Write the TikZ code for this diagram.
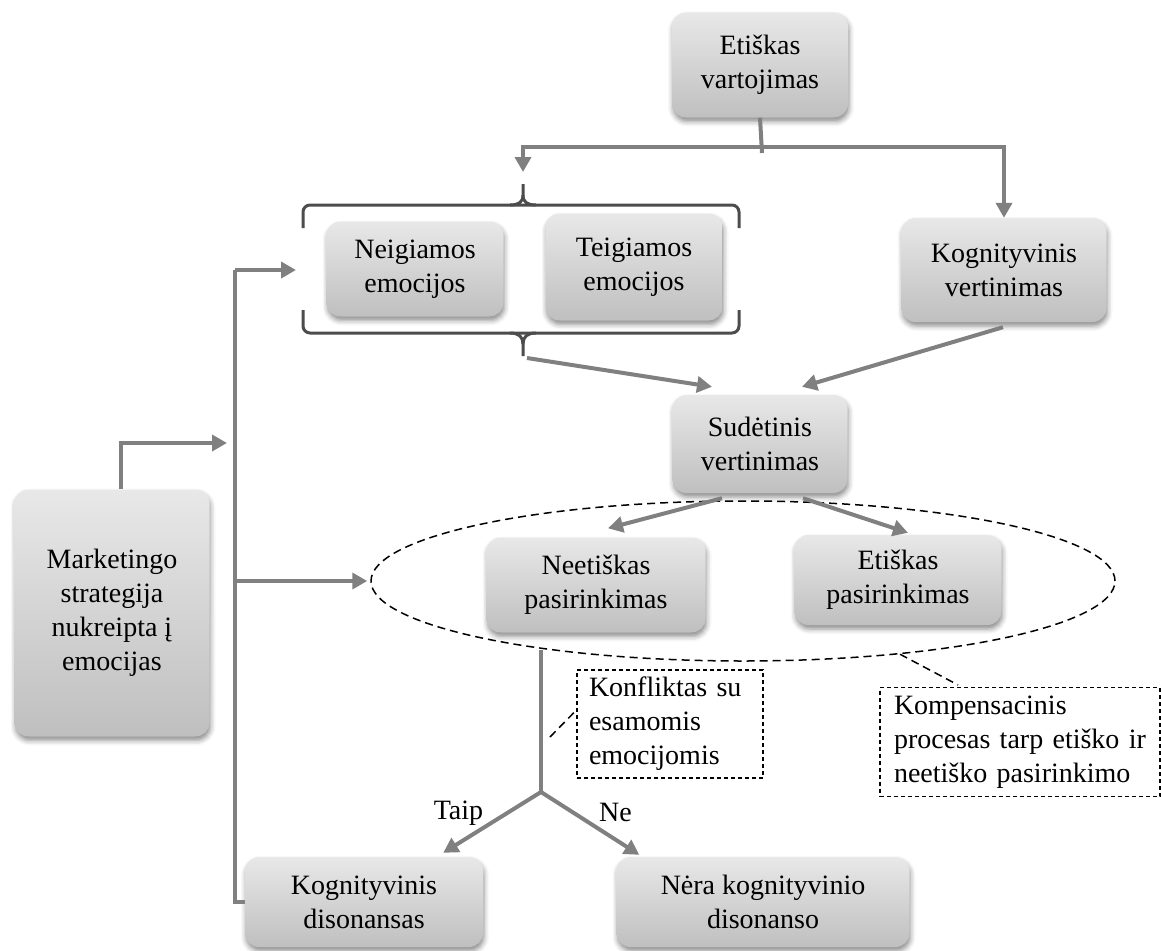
\documentclass[tikz,border=0pt]{standalone}
\usepackage{fontspec}
\setmainfont{Liberation Serif}
\usepackage{tikz}
\usetikzlibrary{
  shapes.geometric, arrows.meta, shadows.blur, calc
}
\tikzset{
  flowbox/.style={
    rectangle, draw=none, rounded corners=14pt, align=center,
    top color=black!9, bottom color=black!25,
    blur shadow={shadow xshift=1pt, shadow yshift=-4pt,
      shadow blur radius=5pt, shadow opacity=45},
    font=\fontsize{28}{34}\selectfont, inner sep=4pt
  },
  notebox/.style={
    draw, line width=1.1pt, dash pattern=on 4pt off 3pt,
    align=left, font=\fontsize{28}{34}\selectfont
  },
  flowarrow/.style={
    -{Triangle[length=15pt,width=16pt]}, line width=4pt, color=black!50
  },
  flowline/.style={
    line width=4pt, color=black!50
  },
  noteline/.style={
    line width=1.5pt, dash pattern=on 8pt off 5pt
  },
  bracketline/.style={
    line width=3pt, color=black!70
  },
  flowlabel/.style={
    font=\fontsize{28}{34}\selectfont, text=black, inner sep=3pt
  },
}

\begin{document}
\begin{tikzpicture}[x=1pt, y=-1pt]
  \useasboundingbox (0,0) rectangle (1161,950);

  % --- Choice ellipse (behind) ---
  \node[ellipse, draw, noteline, minimum width=744pt, minimum height=160pt]
    (choice) at (743,581) {};

  % --- Top ---
  \node[flowbox, minimum width=176pt, minimum height=105pt] (etvar)
    at (760,65) {Etiškas\\vartojimas};

  \node[flowbox, minimum width=177pt, minimum height=95pt] (neig)
    at (415,269) {Neigiamos\\emocijos};
  \node[flowbox, minimum width=177pt, minimum height=107pt] (teig)
    at (634,267) {Teigiamos\\emocijos};
  \node[flowbox, minimum width=205pt, minimum height=104pt] (kogvert)
    at (1004,270) {Kognityvinis\\vertinimas};

  \node[flowbox, minimum width=175pt, minimum height=98pt] (sudet)
    at (760,444) {Sudėtinis\\vertinimas};

  % --- Choices ---
  \node[flowbox, minimum width=219pt, minimum height=95pt] (neet)
    at (596,585) {Neetiškas\\pasirinkimas};
  \node[flowbox, minimum width=207pt, minimum height=90pt] (etpas)
    at (898,580) {Etiškas\\pasirinkimas};

  % --- Left ---
  \node[flowbox, minimum width=195pt, minimum height=247pt] (mark)
    at (112,613) {Marketingo\\strategija\\nukreipta į\\emocijas};

  % --- Bottom ---
  \node[flowbox, minimum width=238pt, minimum height=90pt] (kogdis)
    at (364,902) {Kognityvinis\\disonansas};
  \node[flowbox, minimum width=293pt, minimum height=90pt] (nera)
    at (763,902) {Nėra kognityvinio\\disonanso};

  % Notes
  \node[notebox, text width=162pt, inner xsep=12pt, minimum height=108pt]
    (konf) at (670,724) {Konfliktas su\\esamomis\\emocijomis};
  \node[notebox, text width=252pt, inner xsep=14pt, minimum height=109pt]
    (komp) at (1020,742)
    {Kompensacinis\\procesas tarp etiško ir\\neetiško pasirinkimo};

  % Brackets
  \coordinate (bracetop) at (523,184);
  \coordinate (bracebot) at (523,356);
  \draw[bracketline, rounded corners=7pt] (303,228) |- (739,205) -- (739,228);
  \draw[bracketline] (523,184) -- (523,195)
    .. controls (523,202) and (519,205) .. (510,205);
  \draw[bracketline] (523,195)
    .. controls (523,202) and (527,205) .. (536,205);
  \draw[bracketline, rounded corners=7pt] (303,310) |- (739,333) -- (739,310);
  \draw[bracketline] (523,356) -- (523,344)
    .. controls (523,337) and (519,333) .. (510,333);
  \draw[bracketline] (523,344)
    .. controls (523,337) and (527,333) .. (536,333);

  % Arrows
  \coordinate (split) at (762,147);
  \draw[flowline] (etvar.south) -- ([yshift=-6pt]split);
  \draw[flowarrow] (split) -| (kogvert.north);
  \draw[flowarrow, shorten >=12pt] (split) -| (bracetop);

  \draw[flowarrow] ([xshift=4pt,yshift=-2pt]bracebot)
    -- ([xshift=-48pt,yshift=8pt]sudet.north);
  \draw[flowarrow] ([xshift=-1pt,yshift=-5pt]kogvert.south)
    -- ([xshift=42pt,yshift=8pt]sudet.north);
  \draw[flowarrow] ([xshift=-38pt,yshift=-5pt]sudet.south)
    -- ([xshift=12pt,yshift=9pt]neet.north);
  \draw[flowarrow] ([xshift=43pt,yshift=-5pt]sudet.south)
    -- ([xshift=10pt,yshift=2pt]etpas.north);

  % Left bus
  \coordinate (bustop) at (235,270);
  \coordinate (busmid) at (227,443);
  \coordinate (bracein) at (296,270);
  \draw[flowline] (bustop) |- (kogdis.west);
  \draw[flowarrow] (bustop) -- (bracein);
  \draw[flowarrow] ([xshift=9pt]mark.north) |- (busmid);
  \draw[flowarrow, shorten >=3pt] (choice.west -| bustop) -- (choice.west);

  % Fork
  \coordinate (forktop) at (541,650);
  \coordinate (fork) at (541,792);
  \draw[flowline] (forktop) -- (fork);
  \draw[flowarrow] (fork) -- ([xshift=-40pt,yshift=4pt]kogdis.north east)
    node[flowlabel, midway, anchor=east, xshift=-4pt, yshift=9pt] {Taip};
  \draw[flowarrow] (fork) -- ([xshift=23pt,yshift=2pt]nera.north west)
    node[flowlabel, midway, anchor=west, xshift=4pt, yshift=11pt] {Ne};

  % Note connectors
  \coordinate (konfpt) at (550,737);
  \draw[noteline] (konfpt) -- ([yshift=14pt]konf.west);
  \draw[noteline] (choice.-25) -- ([xshift=-62pt,yshift=2pt]komp.north);
\end{tikzpicture}
\end{document}
